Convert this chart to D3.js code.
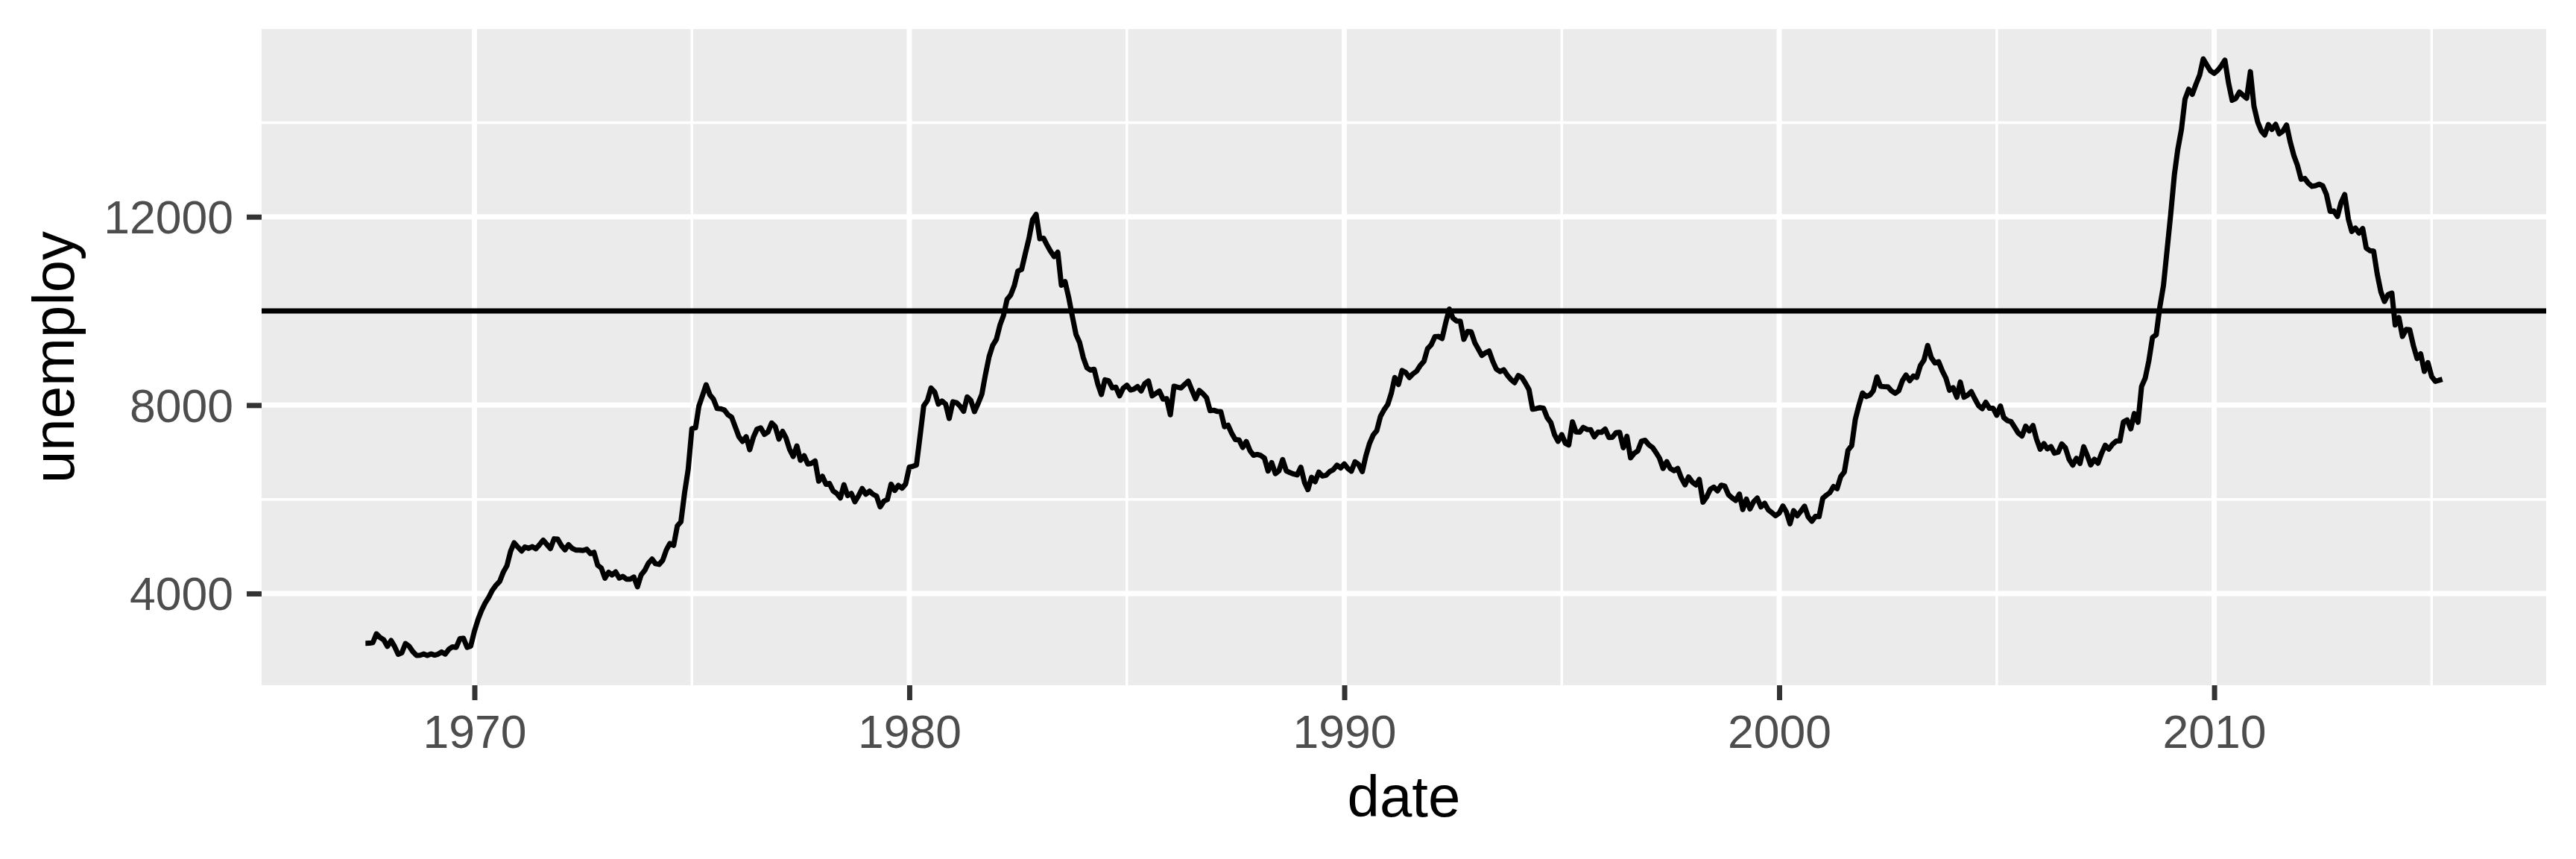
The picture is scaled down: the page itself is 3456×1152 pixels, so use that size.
<!DOCTYPE html>
<html>
<head>
<meta charset="utf-8">
<script src="https://cdn.jsdelivr.net/npm/d3@7"></script>
<style>
html, body { margin: 0; padding: 0; background: #ffffff; }
svg { display: block; }
</style>
</head>
<body>
<svg id="chart" width="3456" height="1152"></svg>
<script>
// ---- data (monthly, starting July 1967) ----
const startYear = 1967;
const startMonth = 6; // July (0-based)
const unemploy = [
2944,2945,2958,3143,3066,3018,2878,3001,2877,2709,
2740,2938,2883,2768,2686,2689,2715,2685,2718,2692,
2712,2758,2713,2816,2868,2856,3040,3049,2856,2884,
3201,3453,3635,3797,3919,4071,4175,4256,4456,4591,
4898,5076,4986,4903,4987,4959,4996,4949,5035,5134,
5042,4954,5161,5154,5019,4928,5038,4959,4922,4923,
4913,4939,4849,4875,4602,4543,4326,4452,4394,4459,
4329,4363,4305,4305,4350,4144,4396,4489,4644,4731,
4634,4618,4705,4927,5063,5022,5437,5523,6140,6636,
7501,7520,7978,8210,8433,8220,8127,7928,7923,7897,
7794,7744,7534,7326,7230,7330,7053,7322,7490,7518,
7380,7430,7620,7545,7280,7443,7307,7059,6911,7134,
6829,6925,6751,6763,6815,6386,6489,6318,6337,6180,
6127,6028,6309,6080,6125,5947,6077,6228,6109,6173,
6109,6069,5840,5959,5996,6320,6190,6296,6238,6325,
6683,6702,6729,7358,7984,8098,8363,8281,8021,8088,
8023,7718,8071,8051,7982,7869,8174,8098,7863,8036,
8230,8646,9029,9267,9397,9705,9895,10244,10335,10538,
10849,10881,11217,11529,11938,12051,11534,11545,11408,11268,
11154,11246,10548,10623,10282,9887,9499,9331,9008,8791,
8746,8762,8456,8226,8537,8519,8367,8381,8198,8358,
8423,8321,8339,8395,8302,8460,8513,8196,8248,8298,
8128,8138,7795,8402,8383,8364,8439,8508,8319,8135,
8310,8243,8159,7883,7892,7865,7862,7542,7574,7398,
7268,7261,7102,7227,7035,6936,6953,6929,6876,6601,
6779,6546,6605,6843,6604,6568,6537,6518,6682,6359,
6205,6468,6375,6577,6495,6511,6590,6630,6725,6667,
6752,6651,6598,6797,6742,6590,6922,7188,7368,7459,
7764,7901,8015,8265,8586,8439,8736,8692,8586,8666,
8722,8842,8931,9198,9283,9454,9460,9415,9744,10040,
9850,9787,9781,9398,9565,9557,9325,9183,9056,9110,
9149,8930,8763,8714,8750,8636,8542,8477,8630,8583,8470,
8331,7915,7927,7946,7933,7734,7632,7375,7230,7375,
7187,7153,7645,7430,7427,7527,7484,7478,7328,7426,
7423,7491,7313,7318,7415,7423,7095,7337,6882,6979,
7031,7236,7253,7158,7102,7000,6873,6655,6799,6655,
6608,6656,6454,6308,6476,6368,6306,6422,5941,6047,
6212,6259,6179,6300,6280,6100,6032,5976,6111,5783,
6004,5796,5951,6025,5838,5915,5778,5716,5653,5708,
5858,5733,5481,5758,5651,5747,5853,5625,5534,5639,
5634,6023,6089,6141,6271,6226,6484,6583,7042,7142,
7694,8003,8258,8182,8215,8304,8599,8399,8393,8390,
8304,8251,8307,8520,8640,8520,8618,8588,8842,8957,
9266,9011,8896,8921,8732,8576,8317,8370,8167,8491,
8170,8212,8286,8136,7990,7927,8061,7932,7934,7784,
7980,7737,7672,7651,7527,7406,7345,7553,7453,7566,
7279,7064,7184,7072,7120,6980,7001,7175,7091,6847,
6727,6872,6762,7116,6927,6731,6850,6766,6979,7149,
7067,7170,7237,7240,7645,7685,7497,7822,7637,8395,
8575,8937,9438,9494,10074,10538,11286,12058,12898,13426,
13853,14499,14707,14601,14814,15009,15352,15219,15098,15046,
15113,15202,15325,14849,14474,14512,14648,14579,14516,15081,
14348,14013,13820,13737,13957,13855,13962,13763,13818,13948,
13594,13302,13093,12797,12813,12713,12646,12660,12692,12656,
12471,12115,12124,12005,12298,12471,11950,11689,11760,11654,
11751,11335,11279,11270,10787,10404,10202,10349,10380,9702,
9859,9460,9608,9599,9262,8990,9090,8717,8903,8610,
8504,8526,8549
];
const yMajorTicks = [4000, 8000, 12000];
const yMinorTicks = [6000, 10000, 14000];
const xMajorYears = [1970, 1980, 1990, 2000, 2010];
const xMinorYears = [1975, 1985, 1995, 2005, 2015];
const hlineValue = 10000;
const xTitle = "date";
const yTitle = "unemploy";

// ---- build series ----
const series = unemploy.map((v, i) => ({
  date: new Date(Date.UTC(startYear, startMonth + i, 1)),
  value: v
}));

// ---- layout ----
const panel = { left: 351, top: 39, right: 3416, bottom: 919 };
const svg = d3.select("#chart");

const dExt = d3.extent(series, d => d.date.getTime());
const dPad = (dExt[1] - dExt[0]) * 0.05;
const x = d3.scaleUtc()
  .domain([new Date(dExt[0] - dPad), new Date(dExt[1] + dPad)])
  .range([panel.left, panel.right]);

const vExt = d3.extent(series, d => d.value);
const vPad = (vExt[1] - vExt[0]) * 0.05;
const y = d3.scaleLinear()
  .domain([vExt[0] - vPad, vExt[1] + vPad])
  .range([panel.bottom, panel.top]);

const yearDate = yr => new Date(Date.UTC(yr, 0, 1));

// panel background
svg.append("rect")
  .attr("x", panel.left).attr("y", panel.top)
  .attr("width", panel.right - panel.left)
  .attr("height", panel.bottom - panel.top)
  .attr("fill", "#EBEBEB");

const grid = svg.append("g");
// minor grid
grid.selectAll("line.ymin").data(yMinorTicks).enter().append("line")
  .attr("x1", panel.left).attr("x2", panel.right)
  .attr("y1", d => y(d)).attr("y2", d => y(d))
  .attr("stroke", "#ffffff").attr("stroke-width", 3.5);
grid.selectAll("line.xmin").data(xMinorYears).enter().append("line")
  .attr("y1", panel.top).attr("y2", panel.bottom)
  .attr("x1", d => x(yearDate(d))).attr("x2", d => x(yearDate(d)))
  .attr("stroke", "#ffffff").attr("stroke-width", 3.5);
// major grid
grid.selectAll("line.ymaj").data(yMajorTicks).enter().append("line")
  .attr("x1", panel.left).attr("x2", panel.right)
  .attr("y1", d => y(d)).attr("y2", d => y(d))
  .attr("stroke", "#ffffff").attr("stroke-width", 7);
grid.selectAll("line.xmaj").data(xMajorYears).enter().append("line")
  .attr("y1", panel.top).attr("y2", panel.bottom)
  .attr("x1", d => x(yearDate(d))).attr("x2", d => x(yearDate(d)))
  .attr("stroke", "#ffffff").attr("stroke-width", 7);

// data line
const line = d3.line().x(d => x(d.date)).y(d => y(d.value));
svg.append("path")
  .datum(series)
  .attr("d", line)
  .attr("fill", "none")
  .attr("stroke", "#000000")
  .attr("stroke-width", 7)
  .attr("stroke-linejoin", "round")
  .attr("stroke-linecap", "butt");

// horizontal reference line
svg.append("line")
  .attr("x1", panel.left).attr("x2", panel.right)
  .attr("y1", y(hlineValue)).attr("y2", y(hlineValue))
  .attr("stroke", "#000000").attr("stroke-width", 7);

// axes
const fontFam = "'Liberation Sans', Arial, Helvetica, sans-serif";
const xAxis = d3.axisBottom(x)
  .tickValues(xMajorYears.map(yearDate))
  .tickFormat(d3.utcFormat("%Y"))
  .tickSize(20).tickPadding(19.6);
const gx = svg.append("g")
  .attr("transform", `translate(0,${panel.bottom})`)
  .call(xAxis);

const yAxis = d3.axisLeft(y)
  .tickValues(yMajorTicks)
  .tickFormat(d3.format("d"))
  .tickSize(20).tickPadding(18);
const gy = svg.append("g")
  .attr("transform", `translate(${panel.left},0)`)
  .call(yAxis);

[gx, gy].forEach(g => {
  g.select(".domain").remove();
  g.selectAll(".tick line").attr("stroke", "#333333").attr("stroke-width", 7);
  g.selectAll(".tick text")
    .attr("fill", "#4D4D4D")
    .style("font-family", fontFam)
    .style("font-size", "62.5px");
});
gy.selectAll(".tick text").attr("dy", "0.35em");

// axis titles
svg.append("text")
  .attr("x", (panel.left + panel.right) / 2)
  .attr("y", 1095)
  .attr("text-anchor", "middle")
  .style("font-family", fontFam)
  .style("font-size", "78px")
  .attr("fill", "#000000")
  .text(xTitle);

svg.append("text")
  .attr("transform", `translate(99,${(panel.top + panel.bottom) / 2}) rotate(-90)`)
  .attr("text-anchor", "middle")
  .style("font-family", fontFam)
  .style("font-size", "78px")
  .attr("fill", "#000000")
  .text(yTitle);
</script>
</body>
</html>
